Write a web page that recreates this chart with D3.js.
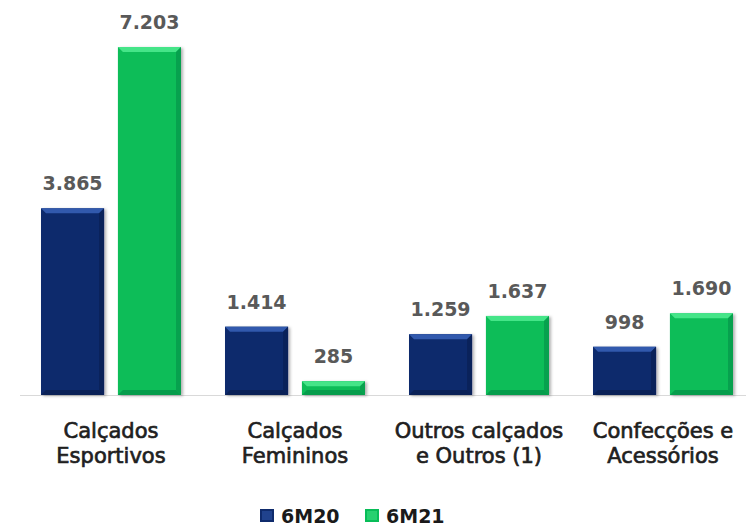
<!DOCTYPE html>
<html>
<head>
<meta charset="utf-8">
<script src="https://cdn.jsdelivr.net/npm/d3@7"></script>
<style>
  html, body { margin: 0; padding: 0; background: #fff; }
  svg { display: block; font-family: "DejaVu Sans", Verdana, sans-serif; }
</style>
</head>
<body>
<svg id="chart" width="746" height="527"></svg>
<script>
// data
const categories = [
  ['Calçados', 'Esportivos'],
  ['Calçados', 'Femininos'],
  ['Outros calçados', 'e Outros (1)'],
  ['Confecções e', 'Acessórios'],
];
const seriesNames = ['6M20', '6M21'];
const values6M20 = [3865, 1414, 1259, 998];
const values6M21 = [7203, 285, 1637, 1690];
const valueLabels6M20 = ['3.865', '1.414', '1.259', '998'];
const valueLabels6M21 = ['7.203', '285', '1.637', '1.690'];

const colors = {
  '6M20': { base: '#0f2b6c', light: '#3159ad', dark: '#0a1f52' },
  '6M21': { base: '#08bd58', light: '#45e588', dark: '#05954a' },
};

const svg = d3.select('#chart');
const baseline = 395;

const x0 = d3.scaleBand()
  .domain(d3.range(categories.length))
  .range([19, 755]);

const x1 = d3.scaleBand()
  .domain(seriesNames)
  .range([22, 162])
  .paddingInner(0.18);

const y = d3.scaleLinear()
  .domain([0, 8000])
  .range([baseline, baseline - 8000 * 0.0483]);

const defs = svg.append('defs');
const shadow = defs.append('filter')
  .attr('id', 'shadow')
  .attr('x', '-20%').attr('y', '-20%')
  .attr('width', '140%').attr('height', '140%');
shadow.append('feDropShadow')
  .attr('dx', 2).attr('dy', 1)
  .attr('stdDeviation', 1.6)
  .attr('flood-color', '#000')
  .attr('flood-opacity', 0.3);

// axis line
svg.append('line')
  .attr('x1', 20).attr('x2', 746)
  .attr('y1', baseline + 0.5).attr('y2', baseline + 0.5)
  .attr('stroke', '#d9d9d9')
  .attr('stroke-width', 1.2);

const rows = d3.range(categories.length).map(i => [
  { key: '6M20', i, value: values6M20[i], label: valueLabels6M20[i] },
  { key: '6M21', i, value: values6M21[i], label: valueLabels6M21[i] },
]);

const groups = svg.append('g').selectAll('g')
  .data(rows)
  .join('g')
  .attr('transform', (d, i) => `translate(${x0(i)},0)`);

const bars = groups.selectAll('g.bar')
  .data(d => d)
  .join('g')
  .attr('class', 'bar');

// bar body with bevel edges
const bev = 5;
bars.each(function(d) {
  const g = d3.select(this);
  const bx = x1(d.key);
  const bw = x1.bandwidth();
  const top = y(d.value);
  const h = baseline - top;
  const c = colors[d.key];
  const b = Math.min(bev, h / 2.5);

  g.append('rect')
    .attr('x', bx).attr('y', top)
    .attr('width', bw).attr('height', h)
    .attr('fill', c.base)
    .attr('filter', 'url(#shadow)');

  // top bevel
  g.append('path')
    .attr('d', `M${bx},${top}L${bx + bw},${top}L${bx + bw - b},${top + b}L${bx + b},${top + b}Z`)
    .attr('fill', c.light);
  // right bevel
  g.append('path')
    .attr('d', `M${bx + bw},${top}L${bx + bw - b},${top + b}L${bx + bw - b},${baseline - b}L${bx + bw},${baseline}Z`)
    .attr('fill', c.dark).attr('opacity', 0.7);
  // bottom bevel
  g.append('path')
    .attr('d', `M${bx},${baseline}L${bx + b},${baseline - b}L${bx + bw - b},${baseline - b}L${bx + bw},${baseline}Z`)
    .attr('fill', c.dark).attr('opacity', 0.8);
});

// value labels
bars.append('text')
  .attr('x', d => x1(d.key) + x1.bandwidth() / 2)
  .attr('y', d => y(d.value) - 18)
  .attr('text-anchor', 'middle')
  .attr('font-size', 19)
  .attr('font-weight', 'bold')
  .attr('fill', '#595959')
  .text(d => d.label);

// category labels
const catText = svg.append('g').selectAll('text')
  .data(categories)
  .join('text')
  .attr('x', (d, i) => x0(i) + x0.bandwidth() / 2)
  .attr('y', 438)
  .attr('text-anchor', 'middle')
  .attr('font-size', 21)
  .attr('fill', '#1f1f1f')
  .attr('stroke', '#1f1f1f')
  .attr('stroke-width', 0.7);

catText.selectAll('tspan')
  .data(d => d)
  .join('tspan')
  .attr('x', function() { return d3.select(this.parentNode).attr('x'); })
  .attr('dy', (d, i) => i === 0 ? 0 : 25)
  .text(d => d);

// legend
const legendX = [260, 365];
const legend = svg.append('g').selectAll('g')
  .data(seriesNames)
  .join('g')
  .attr('transform', (d, i) => `translate(${legendX[i]},509)`);

legend.append('rect')
  .attr('width', 14).attr('height', 13)
  .attr('fill', d => colors[d].base);
legend.append('rect')
  .attr('x', 2).attr('y', 2)
  .attr('width', 10).attr('height', 9)
  .attr('fill', d => colors[d].light)
  .attr('opacity', 0.5);

legend.append('text')
  .attr('x', 21).attr('y', 13.5)
  .attr('font-size', 19)
  .attr('font-weight', 'bold')
  .attr('fill', '#1a1a1a')
  .text(d => d);
</script>
</body>
</html>
